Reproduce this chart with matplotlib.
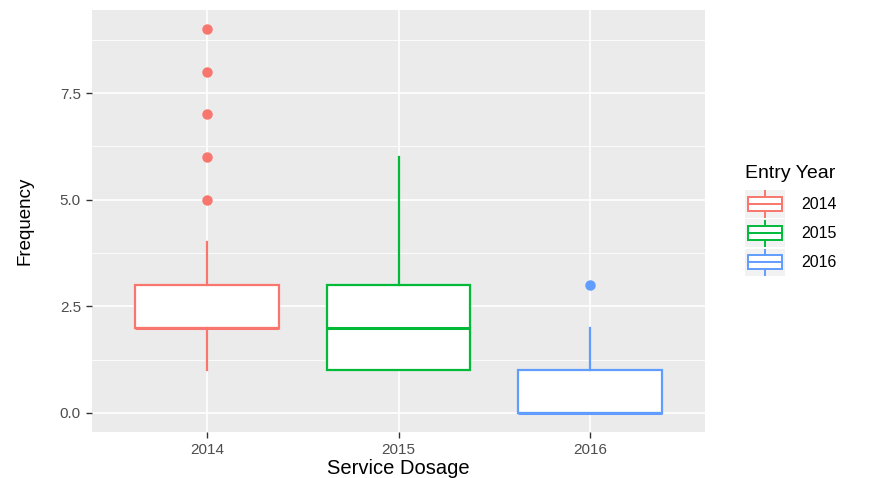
import matplotlib
matplotlib.use("Agg")
import matplotlib.pyplot as plt
from matplotlib.patches import Rectangle, Patch
from matplotlib.lines import Line2D
from matplotlib.legend_handler import HandlerBase

plt.rcParams['font.family'] = ['Liberation Sans', 'DejaVu Sans']

# ---- data ----
years = ["2014", "2015", "2016"]
q1 = [2, 1, 0]
median = [2, 2, 0]
q3 = [3, 3, 1]
whisker_low = [1, 1, 0]
whisker_high = [4, 6, 2]
outliers_2014 = [5, 6, 7, 8, 9]
outliers_2015 = []
outliers_2016 = [3]
outliers = [outliers_2014, outliers_2015, outliers_2016]
colors = ["#F8766D", "#00BA38", "#619CFF"]
y_ticks = [0.0, 2.5, 5.0, 7.5]
y_minor = [1.25, 3.75, 6.25, 8.75]

fig = plt.figure(figsize=(8.82, 4.78), dpi=100)
ax = fig.add_axes([92/882, 1-432/478, (705-92)/882, (432-10)/478])
ax.set_facecolor("#EBEBEB")
for s in ax.spines.values():
    s.set_visible(False)

stats = []
for i, y in enumerate(years):
    stats.append(dict(label=y, q1=q1[i], med=median[i], q3=q3[i],
                      whislo=whisker_low[i], whishi=whisker_high[i],
                      fliers=outliers[i]))
positions = list(range(1, len(years) + 1))
res = ax.bxp(stats, positions=positions, widths=0.75, patch_artist=True,
             showcaps=False, manage_ticks=False, zorder=3)
lw = 1.6
for i, c in enumerate(colors):
    b = res['boxes'][i]
    b.set_facecolor("white")
    b.set_edgecolor(c)
    b.set_linewidth(lw)
    res['medians'][i].set_color(c)
    res['medians'][i].set_linewidth(lw + 0.6)
    for w in res['whiskers'][2*i:2*i+2]:
        w.set_color(c)
        w.set_linewidth(lw)
    f = res['fliers'][i]
    f.set_marker('o')
    f.set_markerfacecolor(c)
    f.set_markeredgecolor(c)
    f.set_markersize(6.5)

ax.set_xlim(0.4, len(years) + 0.6)
ax.set_ylim(-0.45, 9.45)
ax.set_xticks(positions)
ax.set_xticklabels(years)
ax.set_yticks(y_ticks)
ax.set_yticklabels([f"{v:.1f}" for v in y_ticks])
ax.set_yticks(y_minor, minor=True)
ax.tick_params(axis='both', which='major', colors="#333333", length=4,
               width=1.0, labelsize=11, labelcolor="#4D4D4D", pad=4)
ax.tick_params(axis='y', which='minor', length=0)
ax.grid(True, which='major', color='white', linewidth=1.2, zorder=0)
ax.grid(True, which='minor', axis='y', color='white', linewidth=0.6, zorder=0)
ax.set_axisbelow(True)

ax.set_xlabel("Service Dosage", fontsize=14.5, color="black", labelpad=1)
ax.set_ylabel("Frequency", fontsize=13.5, color="black", labelpad=19)


class BoxHandler(HandlerBase):
    def create_artists(self, legend, orig_handle, xdescent, ydescent,
                       width, height, fontsize, trans):
        c = orig_handle.get_edgecolor()
        x0, y0 = -xdescent, -ydescent
        h = height
        bg = Rectangle((x0, y0 + 0.02*h), width, 0.96*h, facecolor="#F2F2F2",
                       edgecolor="none", transform=trans)
        bx = Rectangle((x0 + 0.08*width, y0 + 0.26*h), 0.84*width,
                       0.48*h, facecolor="white", edgecolor=c,
                       linewidth=1.4, transform=trans)
        cx = x0 + width/2
        med = Line2D([x0 + 0.08*width, x0 + 0.92*width],
                     [y0 + 0.5*h]*2, color=c, lw=1.4, transform=trans)
        w1 = Line2D([cx, cx], [y0 + 0.06*h, y0 + 0.26*h], color=c,
                    lw=1.4, transform=trans)
        w2 = Line2D([cx, cx], [y0 + 0.74*h, y0 + 0.94*h], color=c,
                    lw=1.4, transform=trans)
        return [bg, bx, med, w1, w2]


handles = [Patch(facecolor="white", edgecolor=c) for c in colors]
leg = fig.legend(handles, years, handler_map={Patch: BoxHandler()},
                 loc="upper left", bbox_to_anchor=(745/882, 1-165/478),
                 frameon=False, fontsize=11.5, title="Entry Year",
                 title_fontsize=14, handlelength=2.5, handleheight=2.43,
                 labelspacing=0.0, handletextpad=1.0, borderpad=0,
                 borderaxespad=0)
leg._legend_box.align = "left"
leg._legend_box.sep = 5.5

fig.savefig("out.png", dpi=100)
